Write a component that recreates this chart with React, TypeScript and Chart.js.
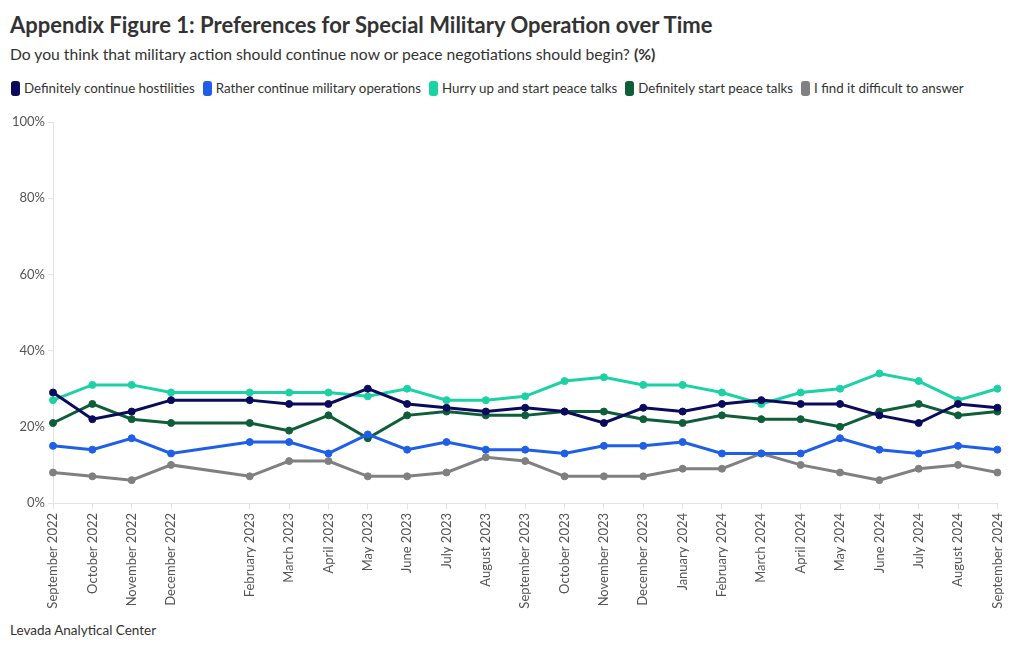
import React, { useEffect, useRef } from "react";
import { Chart, registerables } from "chart.js";

Chart.register(...registerables);

// Month index (0 = September 2022)
const monthIndex = [0, 1, 2, 3, 5, 6, 7, 8, 9, 10, 11, 12, 13, 14, 15, 16, 17, 18, 19, 20, 21, 22, 23, 24];
const monthLabels = [
  "September 2022", "October 2022", "November 2022", "December 2022", "January 2023",
  "February 2023", "March 2023", "April 2023", "May 2023", "June 2023", "July 2023",
  "August 2023", "September 2023", "October 2023", "November 2023", "December 2023",
  "January 2024", "February 2024", "March 2024", "April 2024", "May 2024", "June 2024",
  "July 2024", "August 2024", "September 2024",
];

const definitelyContinue = [29, 22, 24, 27, 27, 26, 26, 30, 26, 25, 24, 25, 24, 21, 25, 24, 26, 27, 26, 26, 23, 21, 26, 25];
const ratherContinue = [15, 14, 17, 13, 16, 16, 13, 18, 14, 16, 14, 14, 13, 15, 15, 16, 13, 13, 13, 17, 14, 13, 15, 14];
const hurryPeace = [27, 31, 31, 29, 29, 29, 29, 28, 30, 27, 27, 28, 32, 33, 31, 31, 29, 26, 29, 30, 34, 32, 27, 30];
const definitelyPeace = [21, 26, 22, 21, 21, 19, 23, 17, 23, 24, 23, 23, 24, 24, 22, 21, 23, 22, 22, 20, 24, 26, 23, 24];
const difficult = [8, 7, 6, 10, 7, 11, 11, 7, 7, 8, 12, 11, 7, 7, 7, 9, 9, 13, 10, 8, 6, 9, 10, 8];

const yTicks = [0, 20, 40, 60, 80, 100];

const seriesNames = [
  "Definitely continue hostilities",
  "Rather continue military operations",
  "Hurry up and start peace talks",
  "Definitely start peace talks",
  "I find it difficult to answer",
];
const seriesColors = ["#0b0b5e", "#1f5fe8", "#1cd1a4", "#0f5e3a", "#808080"];
const seriesValues = [definitelyContinue, ratherContinue, hurryPeace, definitelyPeace, difficult];

const FONT = "'Source Sans Pro', Lato, 'Noto Sans', sans-serif";

export default function App() {
  const ref = useRef<HTMLCanvasElement | null>(null);

  useEffect(() => {
    if (!ref.current) return;
    const datasets = seriesNames.map((name, i) => ({
      label: name,
      data: seriesValues[i].map((v, j) => ({ x: monthIndex[j], y: v })),
      borderColor: seriesColors[i],
      backgroundColor: seriesColors[i],
      pointBackgroundColor: seriesColors[i],
      pointBorderColor: seriesColors[i],
      borderWidth: 3,
      pointRadius: 3.5,
      pointBorderWidth: 1,
      tension: 0,
      clip: false as any,
    }));
    const chart = new Chart(ref.current, {
      type: "line",
      data: { datasets },
      options: {
        animation: false,
        responsive: false,
        maintainAspectRatio: false,
        layout: { padding: { top: 11, right: 5, left: 0, bottom: 0 } },
        plugins: { legend: { display: false }, tooltip: { enabled: false }, title: { display: false } },
        scales: {
          x: {
            type: "linear",
            min: 0,
            max: 24,
            afterBuildTicks: (axis: any) => {
              axis.ticks = monthIndex.map((v) => ({ value: v }));
            },
            afterFit: (axis: any) => {
              axis.height = 118;
            },
            ticks: {
              autoSkip: false,
              minRotation: 90,
              maxRotation: 90,
              color: "#555",
              font: { family: FONT, size: 13 },
              padding: 4,
              callback: (v: any) => monthLabels[Number(v)] ?? "",
            },
            grid: { drawOnChartArea: false, drawTicks: true, tickLength: 6, color: "#e3e3e3" },
            border: { display: true, color: "#e3e3e3" },
          },
          y: {
            min: 0,
            max: 100,
            afterBuildTicks: (axis: any) => {
              axis.ticks = yTicks.map((v) => ({ value: v }));
            },
            afterFit: (axis: any) => {
              axis.width = 53;
            },
            ticks: {
              color: "#555",
              font: { family: FONT, size: 13 },
              padding: 3,
              callback: (v: any) => v + "%",
            },
            grid: { drawOnChartArea: false, drawTicks: true, tickLength: 5, color: "#e3e3e3" },
            border: { display: true, color: "#e3e3e3" },
          },
        },
      },
    });
    return () => chart.destroy();
  }, []);

  return (
    <div style={{ position: "relative", width: 1020, height: 650, margin: -8, background: "#fff", fontFamily: FONT, color: "#333" }}>
      <div style={{ position: "absolute", left: 10, top: 11, fontSize: 22, fontWeight: 700, color: "#333", whiteSpace: "nowrap" }}>
        Appendix Figure 1: Preferences for Special Military Operation over Time
      </div>
      <div style={{ position: "absolute", left: 10, top: 45, fontSize: 15.7, color: "#333", whiteSpace: "nowrap" }}>
        Do you think that military action should continue now or peace negotiations should begin? <b>(%)</b>
      </div>
      <div style={{ position: "absolute", left: 11, top: 80, display: "flex", fontSize: 13.3, color: "#333", whiteSpace: "nowrap" }}>
        {seriesNames.map((n, i) => (
          <div key={n} style={{ display: "flex", alignItems: "center", marginRight: 8 }}>
            <span style={{ display: "inline-block", width: 9, height: 15, borderRadius: 3, background: seriesColors[i], marginRight: 4 }} />
            <span>{n}</span>
          </div>
        ))}
      </div>
      <canvas ref={ref} width={1017} height={510} style={{ position: "absolute", left: 0, top: 111 }} />
      <div style={{ position: "absolute", left: 10, top: 622, fontSize: 13.5, color: "#333" }}>Levada Analytical Center</div>
    </div>
  );
}
